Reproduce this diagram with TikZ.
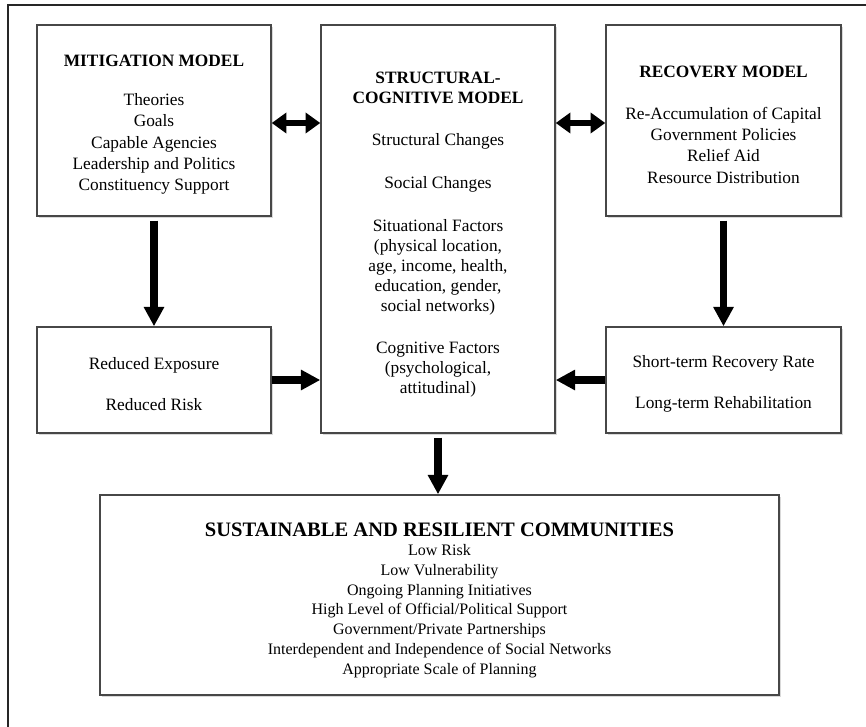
\documentclass[tikz,border=0pt]{standalone}
\usepackage{fontspec}
\setmainfont{Liberation Serif}
\usetikzlibrary{arrows.meta,shadows}
\newcommand{\boxtop}[1][15pt]{\rule{0pt}{#1}}

\begin{document}
\begin{tikzpicture}[x=0.75pt, y=-0.75pt,
        box/.style={draw=black!72, line width=1.1pt, fill=white, align=center, inner sep=0pt,
            drop shadow={shadow xshift=1.3pt, shadow yshift=-1.3pt, opacity=0.3},
            font=\fontsize{13}{16}\selectfont},
        fat/.style={line width=5.8pt, -{Triangle[length=14.5pt,width=14.5pt]}},
        fatboth/.style={line width=5.2pt, {Triangle[length=11pt,width=15pt]}-{Triangle[length=11pt,width=15pt]}}]
        \useasboundingbox (0,0) rectangle (866,727);
        \draw[line width=1.4pt, black!85] (8,727) -- (8,5) -- (866,5);
        % the three models
        \node[box, minimum width=175.5pt, minimum height=143.25pt] (mit) at (154,120.5)
            {\boxtop\textbf{MITIGATION MODEL}\\[13.5pt] Theories\\ Goals\\ Capable Agencies\\ Leadership and Politics\\ Constituency Support};
        \node[box, minimum width=175.5pt, minimum height=306pt, font=\fontsize{13}{15}\selectfont] (cen) at (438,229)
            {\boxtop[17pt]\textbf{STRUCTURAL-}\\ \textbf{COGNITIVE MODEL}\\[17pt] Structural Changes\\[17pt] Social Changes\\[17pt]
             Situational Factors\\ (physical location,\\ age, income, health,\\ education, gender,\\ social networks)\\[17pt]
             Cognitive Factors\\ (psychological,\\ attitudinal)};
        \node[box, minimum width=176.25pt, minimum height=143.25pt] (rec) at (723.5,120.5)
            {\boxtop\textbf{RECOVERY MODEL}\\[15pt] Re-Accumulation of Capital\\ Government Policies\\ Relief Aid\\ Resource Distribution};
        % outcomes
        \node[box, minimum width=175.5pt, minimum height=79.5pt] (red) at (154,380)
            {\boxtop Reduced Exposure\\[15pt] Reduced Risk};
        \node[box, minimum width=176.25pt, minimum height=79.5pt] (srt) at (723.5,380)
            {\boxtop Short-term Recovery Rate\\[15pt] Long-term Rehabilitation};
        \node[box, minimum width=509.25pt, minimum height=150pt, font=\fontsize{12}{14.8}\selectfont] (com) at (439.5,595)
            {\boxtop[18pt]{\fontsize{15.4}{16}\selectfont\textbf{SUSTAINABLE AND RESILIENT COMMUNITIES}}\\[-0.5pt]
             Low Risk\\ Low Vulnerability\\ Ongoing Planning Initiatives\\ High Level of Official/Political Support\\
             Government/Private Partnerships\\ Interdependent and Independence of Social Networks\\ Appropriate Scale of Planning};
        % arrows
        \draw[fatboth] (mit.east |- 0,123) -- (cen.west |- 0,123);
        \draw[fatboth] (rec.west |- 0,123) -- (cen.east |- 0,123);
        \draw[fat, shorten <=3pt] (mit.south) -- (red.north);
        \draw[fat, shorten <=3pt] (rec.south) -- (srt.north);
        \draw[fat] (red.east) -- (red.east -| cen.west);
        \draw[fat] (srt.west) -- (srt.west -| cen.east);
        \draw[fat, shorten <=3pt] (cen.south) -- (cen.south |- com.north);
\end{tikzpicture}
\end{document}
